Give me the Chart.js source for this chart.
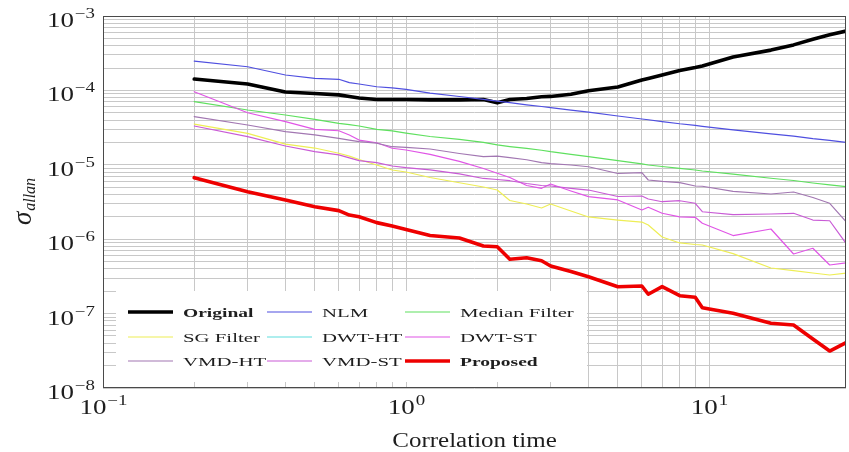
<!DOCTYPE html>
<html>
<head>
<meta charset="utf-8">
<title>Allan deviation vs correlation time</title>
<script src="https://cdn.jsdelivr.net/npm/chart.js@4.4.0/dist/chart.umd.min.js"></script>
<style>
  html, body { margin: 0; padding: 0; background: #ffffff; }
  #wrap { width: 849px; height: 452px; }
</style>
</head>
<body>
<div id="wrap"><canvas id="allan" width="849" height="452"></canvas></div>
<script>
// correlation time (shared x values for every curve)
const tau = [0.2, 0.3, 0.4, 0.5, 0.6, 0.65, 0.7, 0.8, 0.9, 1.0,
             1.2, 1.5, 1.8, 2.0, 2.2, 2.5, 2.8, 3.0, 3.5, 4,
             5, 6, 6.3, 7, 8, 9, 9.5, 12, 16, 19,
             22, 25, 28.3];

// allan deviation of each method
const original = [1.42e-4, 1.22e-4, 9.5e-5, 9.1e-5, 8.7e-5, 8.3e-5, 7.9e-5, 7.55e-5, 7.55e-5, 7.55e-5,
                  7.45e-5, 7.45e-5, 7.55e-5, 6.8e-5, 7.55e-5, 7.8e-5, 8.2e-5, 8.3e-5, 8.9e-5, 9.9e-5,
                  1.11e-4, 1.38e-4, 1.45e-4, 1.61e-4, 1.85e-4, 2.03e-4, 2.13e-4, 2.81e-4, 3.48e-4, 4.09e-4,
                  4.88e-4, 5.59e-4, 6.28e-4];
const nlm = [2.48e-4, 2.08e-4, 1.61e-4, 1.45e-4, 1.41e-4, 1.27e-4, 1.22e-4, 1.12e-4, 1.08e-4, 1.035e-4,
             9.2e-5, 8.28e-5, 7.57e-5, 7.18e-5, 6.83e-5, 6.4e-5, 6.08e-5, 5.86e-5, 5.43e-5, 5.09e-5,
             4.53e-5, 4.13e-5, 4.03e-5, 3.81e-5, 3.56e-5, 3.39e-5, 3.29e-5, 2.95e-5, 2.61e-5, 2.43e-5,
             2.25e-5, 2.13e-5, 2.0e-5];
const median = [7.05e-5, 5.45e-5, 4.67e-5, 4.09e-5, 3.61e-5, 3.46e-5, 3.32e-5, 3.0e-5, 2.85e-5, 2.67e-5,
                2.4e-5, 2.19e-5, 2.0e-5, 1.85e-5, 1.76e-5, 1.66e-5, 1.57e-5, 1.5e-5, 1.38e-5, 1.29e-5,
                1.14e-5, 1.03e-5, 9.94e-6, 9.48e-6, 8.97e-6, 8.51e-6, 8.26e-6, 7.48e-6, 6.6e-6, 6.15e-6,
                5.69e-6, 5.37e-6, 5.08e-6];
const sgFilter = [3.53e-5, 2.65e-5, 1.9e-5, 1.68e-5, 1.43e-5, 1.31e-5, 1.18e-5, 9.94e-6, 8.51e-6, 8.0e-6,
                  6.75e-6, 5.74e-6, 5.03e-6, 4.58e-6, 3.31e-6, 2.97e-6, 2.63e-6, 2.97e-6, 2.39e-6, 1.99e-6,
                  1.81e-6, 1.7e-6, 1.55e-6, 1.07e-6, 8.9e-7, 8.49e-7, 8.36e-7, 6.4e-7, 4.1e-7, 3.79e-7,
                  3.51e-7, 3.3e-7, 3.51e-7];
// DWT-HT is in the legend but its curve is not visible in the figure
const dwtHT = [];
const dwtST = [9.6e-5, 5.01e-5, 3.8e-5, 3.0e-5, 2.87e-5, 2.52e-5, 2.15e-5, 1.98e-5, 1.67e-5, 1.58e-5,
               1.38e-5, 1.11e-5, 8.91e-6, 7.69e-6, 6.75e-6, 5.27e-6, 4.83e-6, 5.52e-6, 4.45e-6, 3.73e-6,
               3.37e-6, 2.47e-6, 2.69e-6, 2.23e-6, 2.0e-6, 1.97e-6, 1.64e-6, 1.12e-6, 1.37e-6, 6.33e-7,
               7.55e-7, 4.5e-7, 4.8e-7];
const vmdHT = [4.43e-5, 3.43e-5, 2.79e-5, 2.52e-5, 2.27e-5, 2.15e-5, 2.05e-5, 1.95e-5, 1.75e-5, 1.72e-5,
               1.63e-5, 1.42e-5, 1.29e-5, 1.31e-5, 1.25e-5, 1.17e-5, 1.07e-5, 1.04e-5, 9.94e-6, 9.42e-6,
               7.64e-6, 7.83e-6, 6.25e-6, 5.97e-6, 5.75e-6, 5.19e-6, 5.15e-6, 4.4e-6, 4.05e-6, 4.31e-6,
               3.63e-6, 3.04e-6, 1.72e-6];
const vmdST = [3.32e-5, 2.39e-5, 1.79e-5, 1.5e-5, 1.36e-5, 1.24e-5, 1.14e-5, 1.07e-5, 9.64e-6, 9.14e-6,
               8.57e-6, 7.57e-6, 6.55e-6, 6.34e-6, 6.11e-6, 5.61e-6, 5.27e-6, 5.19e-6, 4.83e-6, 4.58e-6,
               3.75e-6, 3.81e-6, 3.47e-6, 3.19e-6, 3.29e-6, 3.04e-6, 2.34e-6, 2.14e-6, 2.18e-6, 2.23e-6,
               1.81e-6, 1.77e-6, 8.81e-7];
const proposed = [6.71e-6, 4.35e-6, 3.37e-6, 2.73e-6, 2.42e-6, 2.11e-6, 2.0e-6, 1.67e-6, 1.5e-6, 1.35e-6,
                  1.12e-6, 1.04e-6, 8.1e-7, 7.93e-7, 5.37e-7, 5.64e-7, 5.14e-7, 4.37e-7, 3.68e-7, 3.13e-7,
                  2.3e-7, 2.35e-7, 1.82e-7, 2.3e-7, 1.74e-7, 1.66e-7, 1.2e-7, 1.01e-7, 7.41e-8, 7.03e-8,
                  4.56e-8, 3.14e-8, 4.06e-8];

// axis ticks
const xTicks = [0.1, 0.2, 0.3, 0.4, 0.5, 0.6, 0.7, 0.8, 0.9, 1, 2, 3, 4, 5, 6, 7, 8, 9, 10];
const xMajor = [-1, 0, 1];
const yMajor = [-8, -7, -6, -5, -4, -3];
const yTicks = [];
yMajor.forEach(e => {
  for (let m = 1; m <= 9; m++) {
    const v = Number((m * Math.pow(10, e)).toPrecision(3));
    if (v <= 1e-3) yTicks.push(v);
  }
});

const series = [
  { label: 'Original',      data: original, color: '#000000', width: 3.6, bold: true },
  { label: 'NLM',           data: nlm,      color: '#4f4fe0', width: 1.2 },
  { label: 'Median Filter', data: median,   color: '#5fe05f', width: 1.2 },
  { label: 'SG Filter',     data: sgFilter, color: '#eeee55', width: 1.2 },
  { label: 'DWT-HT',        data: dwtHT,    color: '#5fdede', width: 1.2 },
  { label: 'DWT-ST',        data: dwtST,    color: '#e055e6', width: 1.2 },
  { label: 'VMD-HT',        data: vmdHT,    color: '#a277b2', width: 1.2 },
  { label: 'VMD-ST',        data: vmdST,    color: '#c95bd6', width: 1.2 },
  { label: 'Proposed',      data: proposed, color: '#ee0000', width: 3.6, bold: true }
];

const SERIF = '"Liberation Serif", "DejaVu Serif", serif';

// stretched text helper (the figure's lettering is wide)
function wideText(ctx, text, x, y, font, align, sx) {
  ctx.save();
  ctx.font = font;
  const w = ctx.measureText(text).width * sx;
  let x0 = x;
  if (align === 'center') x0 = x - w / 2;
  if (align === 'right') x0 = x - w;
  ctx.translate(x0, y);
  ctx.scale(sx, 1);
  ctx.textAlign = 'left';
  ctx.textBaseline = 'alphabetic';
  ctx.fillText(text, 0, 0);
  ctx.restore();
  return w;
}

function powerLabel(ctx, exp, x, y, align) {
  const sx = 1.35;
  const baseFont = '20px ' + SERIF;
  const expFont = '14px ' + SERIF;
  const expStr = exp < 0 ? '\u2212' + (-exp) : String(exp);
  ctx.save();
  ctx.font = baseFont;
  const wb = ctx.measureText('10').width * sx;
  ctx.font = expFont;
  const we = ctx.measureText(expStr).width * sx;
  ctx.restore();
  let x0 = x;
  if (align === 'center') x0 = x - (wb + we) / 2;
  if (align === 'right') x0 = x - (wb + we);
  wideText(ctx, '10', x0, y, baseFont, 'left', sx);
  wideText(ctx, expStr, x0 + wb + 1, y - 9, expFont, 'left', sx);
}

const legendBox = {
  id: 'legendBox',
  afterDatasetsDraw(chart) {
    const ctx = chart.ctx;
    ctx.save();
    ctx.fillStyle = '#ffffff';
    ctx.fillRect(116, 291, 471, 91);
    const cols = [128, 267, 405];
    const rows = [312, 337, 361];
    series.forEach((s, i) => {
      const cx = cols[i % 3];
      const cy = rows[Math.floor(i / 3)];
      ctx.strokeStyle = s.color;
      ctx.lineWidth = s.width;
      ctx.beginPath();
      ctx.moveTo(cx, cy);
      ctx.lineTo(cx + 45, cy);
      ctx.stroke();
      ctx.fillStyle = '#1e1e1e';
      const font = (s.bold ? 'bold ' : '') + '13px ' + SERIF;
      wideText(ctx, s.label, cx + 55, cy + 5, font, 'left', s.bold ? 1.5 : 1.6);
    });
    ctx.restore();
  }
};

const axisText = {
  id: 'axisText',
  afterDraw(chart) {
    const ctx = chart.ctx;
    const area = chart.chartArea;
    const xs = chart.scales.x;
    const ys = chart.scales.y;
    ctx.save();
    // frame
    ctx.strokeStyle = '#4a4a4a';
    ctx.lineWidth = 1;
    ctx.strokeRect(Math.round(area.left) + 0.5, Math.round(area.top) + 0.5,
                   Math.round(area.right - area.left) - 1, Math.round(area.bottom - area.top) - 1);
    ctx.fillStyle = '#1e1e1e';
    // tick labels
    xMajor.forEach(e => {
      const px = xs.getPixelForValue(Math.pow(10, e));
      powerLabel(ctx, e, px, area.bottom + 26, 'center');
    });
    yMajor.forEach(e => {
      const py = ys.getPixelForValue(Math.pow(10, e));
      powerLabel(ctx, e, area.left - 9, py + 11, 'right');
    });
    // axis titles
    wideText(ctx, 'Correlation time', (area.left + area.right) / 2, 447, '20px ' + SERIF, 'center', 1.25);
    ctx.translate(31, (area.top + area.bottom) / 2);
    ctx.rotate(-Math.PI / 2);
    ctx.font = 'italic 27px ' + SERIF;
    const ws = ctx.measureText('\u03c3').width;
    ctx.font = 'italic 16px ' + SERIF;
    const wa = ctx.measureText('allan').width;
    const start = -(ws + wa) / 2;
    ctx.font = 'italic 27px ' + SERIF;
    ctx.fillText('\u03c3', start, 0);
    ctx.font = 'italic 16px ' + SERIF;
    ctx.fillText('allan', start + ws + 1, 4);
    ctx.restore();
  }
};

new Chart(document.getElementById('allan'), {
  type: 'line',
  data: {
    datasets: series.map((s, i) => ({
      label: s.label,
      data: s.data.map((v, k) => ({ x: tau[k], y: v })),
      borderColor: s.color,
      backgroundColor: s.color,
      borderWidth: s.width,
      order: -i
    }))
  },
  options: {
    responsive: false,
    animation: false,
    layout: { padding: { top: 16, right: 3, left: 0, bottom: 0 } },
    elements: {
      point: { radius: 0 },
      line: { tension: 0, borderJoinStyle: 'round', borderCapStyle: 'round' }
    },
    plugins: { legend: { display: false }, tooltip: { enabled: false } },
    scales: {
      x: {
        type: 'logarithmic',
        min: 0.1,
        max: 28.3,
        afterBuildTicks: s => { s.ticks = xTicks.map(v => ({ value: v })); },
        afterFit: s => { s.height = 64; },
        ticks: { display: false },
        grid: { color: '#c8c8c8', lineWidth: 1, drawTicks: false },
        border: { display: false }
      },
      y: {
        type: 'logarithmic',
        min: 1e-8,
        max: 1e-3,
        afterBuildTicks: s => { s.ticks = yTicks.map(v => ({ value: v })); },
        afterFit: s => { s.width = 103; },
        ticks: { display: false },
        grid: { color: '#c8c8c8', lineWidth: 1, drawTicks: false },
        border: { display: false }
      }
    }
  },
  plugins: [legendBox, axisText]
});
</script>
</body>
</html>
